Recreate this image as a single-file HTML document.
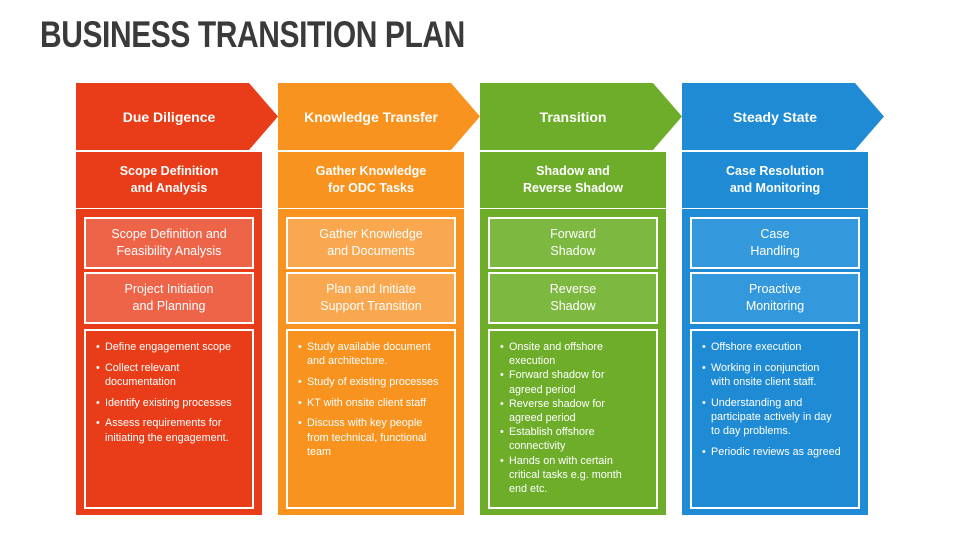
<!DOCTYPE html>
<html><head><meta charset="utf-8"><style>
*{margin:0;padding:0;box-sizing:border-box}
body{width:960px;height:540px;background:#fff;position:relative;overflow:hidden;font-family:"Liberation Sans",Arial,sans-serif;color:#fff}
.title{position:absolute;left:40px;top:14px;font-size:37px;font-weight:bold;color:#3a3a3a;transform:scaleX(0.81);transform-origin:left top;white-space:nowrap;letter-spacing:-0.5px}
.col{position:absolute;top:83px;width:232px;height:432px}
.arrow{position:absolute;left:0;top:0;width:202px;height:67px;font-weight:bold;font-size:14px;display:flex;align-items:center;justify-content:center;padding-right:16px}
.arrow svg{position:absolute;left:0;top:0}
.arrow span{position:relative}
.sub{position:absolute;left:0;top:69px;width:186px;height:56px;font-weight:bold;font-size:12.5px;line-height:17px;display:flex;align-items:center;justify-content:center;text-align:center}
.body{position:absolute;left:0;top:126px;width:186px;height:306px}
.box{position:absolute;left:8px;width:170px;height:52px;border:2px solid #fff;font-size:12.5px;line-height:17px;display:flex;align-items:center;justify-content:center;text-align:center}
.bl{position:absolute;left:8px;top:120px;width:170px;height:180px;border:2px solid #fff;padding:9px 12px 0 19px;font-size:10.8px;line-height:14.2px}
.bl div{position:relative;margin-bottom:6.5px}
.bl div:before{content:"•";position:absolute;left:-9px}
.bl.g div{margin-bottom:0}
</style></head><body>
<div class="title">BUSINESS TRANSITION PLAN</div>

<div class="col" style="left:76px">
 <div class="arrow"><svg width="202" height="67"><polygon points="0,0 173,0 202,33.5 173,67 0,67" fill="#E83D18"/></svg><span>Due Diligence</span></div>
 <div class="sub" style="background:#E83D18">Scope Definition<br>and Analysis</div>
 <div class="body" style="background:#E83D18">
  <div class="box" style="top:8px;background:#EE6448">Scope Definition and<br>Feasibility Analysis</div>
  <div class="box" style="top:63px;background:#EE6448">Project Initiation<br>and Planning</div>
  <div class="bl"><div>Define engagement scope</div><div>Collect relevant<br>documentation</div><div>Identify existing processes</div><div>Assess requirements for<br>initiating the engagement.</div></div>
 </div>
</div>

<div class="col" style="left:278px">
 <div class="arrow"><svg width="202" height="67"><polygon points="0,0 173,0 202,33.5 173,67 0,67" fill="#F7931E"/></svg><span>Knowledge Transfer</span></div>
 <div class="sub" style="background:#F7931E">Gather Knowledge<br>for ODC Tasks</div>
 <div class="body" style="background:#F7931E">
  <div class="box" style="top:8px;background:#F9A84F">Gather Knowledge<br>and Documents</div>
  <div class="box" style="top:63px;background:#F9A84F">Plan and Initiate<br>Support Transition</div>
  <div class="bl"><div>Study available document<br>and architecture.</div><div>Study of existing processes</div><div>KT with onsite client staff</div><div>Discuss with key people<br>from technical, functional<br>team</div></div>
 </div>
</div>

<div class="col" style="left:480px">
 <div class="arrow"><svg width="202" height="67"><polygon points="0,0 173,0 202,33.5 173,67 0,67" fill="#6DAD2A"/></svg><span>Transition</span></div>
 <div class="sub" style="background:#6DAD2A">Shadow and<br>Reverse Shadow</div>
 <div class="body" style="background:#6DAD2A">
  <div class="box" style="top:8px;background:#7DB840">Forward<br>Shadow</div>
  <div class="box" style="top:63px;background:#7DB840">Reverse<br>Shadow</div>
  <div class="bl g"><div>Onsite and offshore<br>execution</div><div>Forward shadow for<br>agreed period</div><div>Reverse shadow for<br>agreed period</div><div>Establish offshore<br>connectivity</div><div>Hands on with certain<br>critical tasks e.g. month<br>end etc.</div></div>
 </div>
</div>

<div class="col" style="left:682px">
 <div class="arrow"><svg width="202" height="67"><polygon points="0,0 173,0 202,33.5 173,67 0,67" fill="#1E8BD4"/></svg><span>Steady State</span></div>
 <div class="sub" style="background:#1E8BD4">Case Resolution<br>and Monitoring</div>
 <div class="body" style="background:#1E8BD4">
  <div class="box" style="top:8px;background:#3399DC">Case<br>Handling</div>
  <div class="box" style="top:63px;background:#3399DC">Proactive<br>Monitoring</div>
  <div class="bl"><div>Offshore execution</div><div>Working in conjunction<br>with onsite client staff.</div><div>Understanding and<br>participate actively in day<br>to day problems.</div><div>Periodic reviews as agreed</div></div>
 </div>
</div>
</body></html>
